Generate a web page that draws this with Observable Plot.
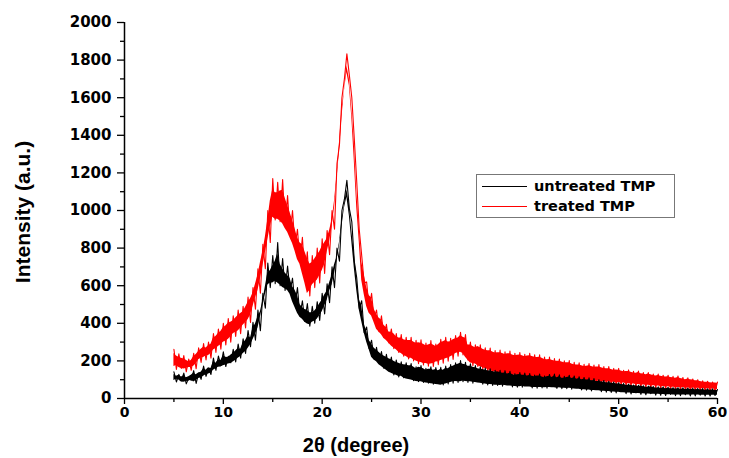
<!DOCTYPE html>
<html>
<head>
<meta charset="utf-8">
<script src="https://cdn.jsdelivr.net/npm/d3@7"></script>
<script src="https://cdn.jsdelivr.net/npm/@observablehq/plot@0.6"></script>
<style>
  html, body { margin: 0; padding: 0; background: #fff; }
  #wrap { position: relative; width: 729px; height: 458px; }
  #legend { position: absolute; left: 476px; top: 174px; width: 197px; height: 42px; border: 1px solid #777; background: #fff; font-family: "DejaVu Sans", sans-serif; font-weight: bold; font-size: 14.5px; }
  .lg { position: absolute; left: 5px; height: 20px; display: flex; align-items: center; }
  .lg span.sw { display: inline-block; width: 45px; height: 0; border-top: 1.3px solid; margin-right: 7px; }
</style>
</head>
<body>
<div id="wrap"></div>
<script>
// 2θ sampling grid (degrees)
const twoTheta = [
5,5.25,5.5,5.75, 6,6.25,6.5,6.75, 7,7.25,7.5,7.75, 8,8.25,8.5,8.75, 9,9.25,9.5,9.75,
10,10.25,10.5,10.75, 11,11.25,11.5,11.75, 12,12.25,12.5,12.75, 13,13.25,13.5,13.75, 14,14.25,14.5,14.75,
15,15.25,15.5,15.75, 16,16.25,16.5,16.75, 17,17.25,17.5,17.75, 18,18.25,18.5,18.75, 19,19.25,19.5,19.75,
20,20.25,20.5,20.75, 21,21.25,21.5,21.75, 22,22.25,22.5,22.75, 23,23.25,23.5,23.75, 24,24.25,24.5,24.75,
25,25.25,25.5,25.75, 26,26.25,26.5,26.75, 27,27.25,27.5,27.75, 28,28.25,28.5,28.75, 29,29.25,29.5,29.75,
30,30.25,30.5,30.75, 31,31.25,31.5,31.75, 32,32.25,32.5,32.75, 33,33.25,33.5,33.75, 34,34.25,34.5,34.75,
35,35.25,35.5,35.75, 36,36.25,36.5,36.75, 37,37.25,37.5,37.75, 38,38.25,38.5,38.75, 39,39.25,39.5,39.75,
40,40.25,40.5,40.75, 41,41.25,41.5,41.75, 42,42.25,42.5,42.75, 43,43.25,43.5,43.75, 44,44.25,44.5,44.75,
45,45.25,45.5,45.75, 46,46.25,46.5,46.75, 47,47.25,47.5,47.75, 48,48.25,48.5,48.75, 49,49.25,49.5,49.75,
50,50.25,50.5,50.75, 51,51.25,51.5,51.75, 52,52.25,52.5,52.75, 53,53.25,53.5,53.75, 54,54.25,54.5,54.75,
55,55.25,55.5,55.75, 56,56.25,56.5,56.75, 57,57.25,57.5,57.75, 58,58.25,58.5,58.75, 59,59.25,59.5,59.75,
60];

// untreated TMP: noisy trace (a.u.)
const untreated = [
142,88,128,95, 135,78,110,96, 148,80,135,102, 172,118,160,128, 215,150,226,175,
248,170,225,190, 262,195,290,215, 318,240,362,275, 405,310,470,360, 560,480,720,590,
760,610,830,600, 745,575,705,570, 640,500,590,440, 520,410,505,385, 490,400,515,415,
560,450,610,510, 700,590,800,730, 1000,1060,1160,1010, 940,730,640,480, 520,350,380,265,
310,210,272,190, 250,160,235,150, 220,125,205,115, 195,110,190,112, 186,95,168,90,
175,85,160,82, 168,76,165,88, 166,72,172,78, 180,82,190,85, 202,90,192,85,
184,82,175,92, 168,76,162,72, 158,70,150,70, 150,66,148,78, 145,62,132,60,
138,60,135,72, 133,56,125,55, 130,56,120,55, 128,64,130,54, 126,52,118,52,
124,50,120,60, 116,46,112,44, 110,40,106,48, 100,36,96,34, 92,32,88,30,
84,40,80,26, 76,24,72,30, 70,22,68,20, 66,26,64,18, 62,17,62,16,
60,22,58,15, 58,15,57,20, 56,14,55,14, 54,18,53,13, 52,13,51,16,
48];
// untreated TMP: dense core of the noise band, upper and lower edge (a.u.)
const untreatedHigh = [
128,118,124,114, 120,110,116,124, 134,126,136,140, 158,150,164,160, 196,188,206,202,
226,220,218,230, 240,252,266,262, 292,308,332,322, 374,396,434,462, 520,594,668,680,
706,730,770,714, 690,668,654,640, 594,576,548,500, 484,474,470,456, 456,466,480,504,
522,550,570,616, 654,712,752,830, 950,1030,1110,1030, 890,776,640,528, 490,396,358,310,
290,268,256,246, 234,226,220,212, 206,198,192,188, 182,180,178,174, 174,168,158,166,
164,158,150,156, 156,150,154,148, 154,150,160,158, 168,172,178,182, 188,182,180,172,
172,166,164,158, 156,154,150,148, 146,144,140,142, 138,134,136,130, 134,128,122,126,
128,124,124,120, 122,118,116,120, 120,114,110,116, 118,112,120,110, 116,108,108,112,
114,106,110,102, 106,100,102,98, 100,95,96,91, 91,89,87,84, 84,82,80,78,
77,75,73,71, 70,71,66,68, 64,66,62,60, 60,62,58,56, 56,54,56,52,
54,52,52,50, 52,49,51,48, 50,48,49,46, 48,46,47,44, 46,44,45,43,
42];
const untreatedLow = [
96,102,98,88, 86,90,92,98, 88,96,106,110, 118,126,130,136, 150,158,166,168,
174,178,184,186, 194,204,214,224, 238,250,266,286, 312,342,374,432, 494,552,604,614,
614,624,614,604, 590,584,574,554, 514,484,454,432, 422,406,396,392, 406,412,422,442,
462,492,522,572, 604,664,734,812, 912,1012,1070,972, 834,694,574,472, 410,350,300,260,
220,205,195,180, 170,160,150,140, 134,127,124,117, 119,109,104,101, 99,95,91,89,
89,85,83,81, 79,77,75,73, 71,75,77,81, 85,89,91,89, 89,93,91,89,
89,87,85,83, 81,79,77,75, 75,73,71,71, 69,71,69,67, 67,65,64,63,
63,65,61,61, 61,59,59,59, 59,59,57,59, 59,57,57,55, 57,55,55,53,
55,53,51,49, 49,47,47,45, 45,43,43,41, 41,39,39,37, 37,35,35,33,
33,31,31,29, 29,29,27,27, 27,25,25,24, 24,23,23,22, 22,21,21,20,
20,20,19,19, 19,19,19,18, 18,18,18,18, 18,17,17,17, 17,17,17,17,
17];

// treated TMP: noisy trace (a.u.)
const treated = [
262,155,238,160, 228,142,210,150, 240,158,270,192, 292,205,300,215, 345,245,370,262,
400,285,425,300, 440,330,470,345, 490,375,540,405, 590,475,690,560, 820,690,1000,830,
1170,950,1150,940, 1165,915,1080,870, 1000,810,900,725, 858,650,780,545, 760,590,800,615,
850,665,894,765, 1000,900,1250,1350, 1600,1700,1833,1720, 1600,1380,1150,900, 760,615,620,475,
560,425,470,355, 440,325,395,295, 370,265,345,245, 340,225,325,210, 325,200,310,185,
312,178,295,172, 308,170,290,180, 315,188,326,198, 320,208,335,225, 352,232,340,205,
300,175,285,170, 285,155,270,145, 268,135,255,128, 258,120,248,115, 252,112,240,110,
245,108,235,104, 240,102,232,100, 232,98,220,95, 220,92,212,90, 210,88,200,86,
202,84,192,84, 190,83,182,82, 186,82,178,80, 180,78,170,76, 170,74,160,72,
160,70,150,68, 152,65,145,63, 146,60,138,58, 138,56,130,55, 130,52,124,50,
124,48,118,46, 120,45,112,44, 110,42,104,41, 100,40,94,39, 92,38,88,36,
87];
// treated TMP: dense core of the noise band, upper and lower edge (a.u.)
const treatedHigh = [
240,226,220,214, 210,204,196,202, 222,234,250,262, 272,268,280,288, 322,330,346,356,
376,386,400,406, 414,428,442,452, 462,486,510,530, 560,608,656,722, 780,858,950,1050,
1110,1094,1094,1104, 1108,1066,1028,990, 950,904,856,828, 818,782,744,716, 724,742,762,780,
808,828,850,894, 950,1050,1190,1360, 1540,1640,1770,1700, 1540,1360,1100,916, 728,660,592,548,
534,476,448,428, 418,390,376,354, 352,344,328,322, 322,312,308,308, 308,300,294,296,
294,288,280,284, 290,284,276,286, 298,302,308,300, 302,312,318,322, 334,326,320,284,
284,276,270,276, 270,262,256,254, 254,248,242,244, 244,240,234,238, 238,232,228,230,
232,228,222,226, 228,224,220,218, 220,214,208,206, 208,204,200,198, 198,194,190,190,
190,184,180,178, 178,174,170,172, 174,170,166,168, 168,164,160,158, 158,154,150,152,
150,146,142,144, 144,140,136,134, 138,132,130,126, 130,126,122,120, 122,118,116,114,
116,112,110,108, 112,106,104,100, 104,100,98,94, 94,91,88,86, 86,84,82,82,
81];
const treatedLow = [
170,175,165,160, 157,160,165,165, 172,185,206,214, 218,226,229,239, 258,266,276,286,
299,306,314,329, 344,352,359,374, 389,404,419,444, 489,534,574,634, 704,774,844,914,
964,954,954,944, 929,904,884,854, 824,784,739,714, 664,614,559,574, 604,619,629,654,
679,714,779,834, 914,1014,1164,1314, 1494,1634,1734,1664, 1494,1264,1014,834, 629,554,489,454,
439,404,369,354, 339,319,309,294, 279,269,259,246, 239,229,224,214, 214,206,199,194,
192,186,186,182, 184,186,194,196, 202,206,212,216, 222,229,239,244, 246,239,219,204,
189,186,184,174, 169,164,159,154, 149,144,142,136, 134,132,129,126, 126,124,124,120,
122,120,118,116, 116,114,114,112, 112,110,109,106, 106,104,104,102, 102,100,100,98,
98,98,98,97, 97,96,96,95, 96,94,94,92, 92,90,90,88, 88,86,86,84,
84,82,82,79, 79,77,77,74, 74,72,72,70, 70,68,68,66, 66,64,64,62,
62,60,60,59, 59,58,58,56, 56,55,55,54, 54,53,53,52, 52,51,50,49,
48];

const xMajor = [0, 10, 20, 30, 40, 50, 60];
const xMinor = [5, 15, 25, 35, 45, 55];
const yMajor = [0, 200, 400, 600, 800, 1000, 1200, 1400, 1600, 1800, 2000];
const yMinor = [100, 300, 500, 700, 900, 1100, 1300, 1500, 1700, 1900];

const seriesNames = ["untreated TMP", "treated TMP"];
const seriesColors = ["#000000", "#ff0000"];

const rowsU = twoTheta.map((x, i) => ({x, y: untreated[i], lo: untreatedLow[i], hi: untreatedHigh[i]}));
const rowsT = twoTheta.map((x, i) => ({x, y: treated[i], lo: treatedLow[i], hi: treatedHigh[i]}));

const plot = Plot.plot({
  width: 729,
  height: 458,
  marginLeft: 124,
  marginRight: 12,
  marginTop: 22,
  marginBottom: 60,
  x: {domain: [0, 60]},
  y: {domain: [0, 2000]},
  style: {background: "#fff", color: "#000"},
  marks: [
    Plot.areaY(rowsT, {x: "x", y1: "lo", y2: "hi", fill: seriesColors[1], curve: "linear"}),
    Plot.line(rowsT, {x: "x", y: "y", stroke: seriesColors[1], strokeWidth: 1.1}),
    Plot.areaY(rowsU, {x: "x", y1: "lo", y2: "hi", fill: seriesColors[0], curve: "linear"}),
    Plot.line(rowsU, {x: "x", y: "y", stroke: seriesColors[0], strokeWidth: 1.1}),
    Plot.axisX({ticks: xMajor, tickSize: 6, tickPadding: 3, label: null, tickFormat: d3.format("d"), strokeWidth: 1.3}),
    Plot.axisX({ticks: xMinor, tickSize: 4, tickFormat: () => "", label: null, strokeWidth: 1.3}),
    Plot.axisY({ticks: yMajor, tickSize: 7, tickPadding: 6, label: null, tickFormat: d3.format("d"), strokeWidth: 1.3}),
    Plot.axisY({ticks: yMinor, tickSize: 4, tickFormat: () => "", label: null, strokeWidth: 1.3}),
    Plot.ruleX([0], {strokeWidth: 1.5}),
    Plot.ruleY([0], {strokeWidth: 1.5})
  ]
});

const wrap = document.getElementById("wrap");
wrap.appendChild(plot);

// style tick labels (bold) after layout
const svg = d3.select(plot);
svg.selectAll("text").each(function() {
  const t = d3.select(this);
  if (!this.textContent) return;
  const r = this.getBoundingClientRect();
  const isY = r.right <= 124;
  t.style("font-family", "'DejaVu Sans', sans-serif")
   .style("font-weight", "bold")
   .style("font-size", isY ? "15px" : "14px")
   .style("fill", "#000");
});

svg.append("text")
  .attr("transform", "translate(30,212) rotate(-90)")
  .attr("text-anchor", "middle")
  .style("font-family", "'Liberation Sans', Arial, sans-serif")
  .style("font-weight", "bold")
  .style("font-size", "21px")
  .style("fill", "#000")
  .text("Intensity (a.u.)");
svg.append("text")
  .attr("x", 356)
  .attr("y", 452)
  .attr("text-anchor", "middle")
  .style("font-family", "'Liberation Sans', Arial, sans-serif")
  .style("font-weight", "bold")
  .style("font-size", "20px")
  .style("fill", "#000")
  .text("2θ (degree)");

const legend = document.createElement("div");
legend.id = "legend";
seriesNames.forEach((name, i) => {
  const row = document.createElement("div");
  row.className = "lg";
  row.style.top = (i === 0 ? 1 : 21) + "px";
  const sw = document.createElement("span");
  sw.className = "sw";
  sw.style.borderTopColor = seriesColors[i];
  row.appendChild(sw);
  row.appendChild(document.createTextNode(name));
  legend.appendChild(row);
});
wrap.appendChild(legend);
</script>
</body>
</html>
